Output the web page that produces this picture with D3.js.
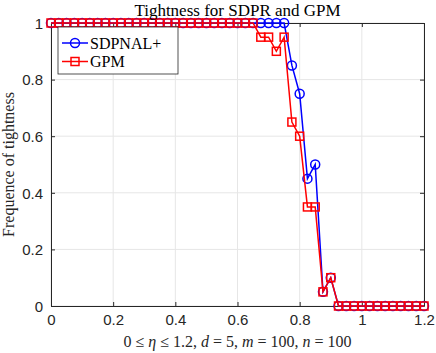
<!DOCTYPE html>
<html>
<head>
<meta charset="utf-8">
<script src="https://cdn.jsdelivr.net/npm/d3@7"></script>
<style>
  body { margin: 0; background: #fff; }
  svg { display: block; }
</style>
</head>
<body>
<svg id="chart"></svg>
<script>
// eta values, step 0.025 from 0 to 1.2
const etas = d3.range(0, 49).map(i => +(i * 0.025).toFixed(3));
// SDPNAL+ frequencies
const sdpnal = [
  1,1,1,1,1,1,1,1,1,1, 1,1,1,1,1,1,1,1,1,1,
  1,1,1,1,1,1,1,1,1,1, 1,0.85,0.75,0.45,0.5,0.05,0.1,0,0,0,
  0,0,0,0,0,0,0,0,0
];
// GPM frequencies
const gpm = [
  1,1,1,1,1,1,1,1,1,1, 1,1,1,1,1,1,1,1,1,1,
  1,1,1,1,1,1,1,0.95,0.95,0.9, 0.95,0.65,0.6,0.35,0.35,0.05,0.1,0,0,0,
  0,0,0,0,0,0,0,0,0
];
const xTicks = [0, 0.2, 0.4, 0.6, 0.8, 1, 1.2];
const yTicks = [0, 0.2, 0.4, 0.6, 0.8, 1];

const W = 436, H = 353;
const m = {left: 51, right: 12, top: 23, bottom: 47};
const svg = d3.select('#chart').attr('width', W).attr('height', H);

const x = d3.scaleLinear().domain([0, 1.2]).range([m.left, W - m.right]);
const y = d3.scaleLinear().domain([0, 1]).range([H - m.bottom, m.top]);

// grid
const grid = svg.append('g').attr('stroke', '#e6e6e6').attr('stroke-width', 1);
grid.selectAll('.gx').data(xTicks).join('line')
  .attr('x1', d => x(d)).attr('x2', d => x(d)).attr('y1', y(0)).attr('y2', y(1));
grid.selectAll('.gy').data(yTicks).join('line')
  .attr('x1', x(0)).attr('x2', x(1.2)).attr('y1', d => y(d)).attr('y2', d => y(d));

// axes (ticks inside)
const tickFont = 'Liberation Sans, Arial, sans-serif';
const xAxis = d3.axisBottom(x).tickValues(xTicks).tickSizeInner(-4).tickSizeOuter(0).tickPadding(8).tickFormat(d3.format('~g'));
const yAxis = d3.axisLeft(y).tickValues(yTicks).tickSizeInner(-4).tickSizeOuter(0).tickPadding(8).tickFormat(d3.format('~g'));
const gx = svg.append('g').attr('transform', `translate(0,${y(0)})`).call(xAxis);
const gy = svg.append('g').attr('transform', `translate(${x(0)},0)`).call(yAxis);
[gx, gy].forEach(g => {
  g.selectAll('path,line').attr('stroke', '#262626');
  g.selectAll('text').attr('fill', '#262626').style('font-family', tickFont).style('font-size', '15px');
});
gy.selectAll('text').attr('dy', '0.35em');
// top and right box edges
const gt = svg.append('g').attr('transform', `translate(0,${y(1)})`)
  .call(d3.axisTop(x).tickValues(xTicks).tickSizeInner(-4).tickSizeOuter(0).tickFormat(''));
const gr = svg.append('g').attr('transform', `translate(${x(1.2)},0)`)
  .call(d3.axisRight(y).tickValues(yTicks).tickSizeInner(-4).tickSizeOuter(0).tickFormat(''));
[gt, gr].forEach(g => g.selectAll('path,line').attr('stroke', '#262626'));

// series
const series = [
  {name: 'SDPNAL+', vals: sdpnal, color: '#0000ff', marker: 'circle'},
  {name: 'GPM', vals: gpm, color: '#ff0000', marker: 'square'}
];
const line = d3.line().x((d, i) => x(etas[i])).y(d => y(d));

function drawMarker(g, type, color) {
  if (type === 'circle') {
    g.append('circle').attr('r', 4.5).attr('fill', 'none').attr('stroke', color).attr('stroke-width', 1.5);
  } else {
    g.append('rect').attr('x', -4).attr('y', -4).attr('width', 8).attr('height', 8)
      .attr('fill', 'none').attr('stroke', color).attr('stroke-width', 1.5);
  }
}

series.forEach(s => {
  svg.append('path').datum(s.vals).attr('d', line)
    .attr('fill', 'none').attr('stroke', s.color).attr('stroke-width', 1.5);
  s.vals.forEach((v, i) => {
    const g = svg.append('g').attr('transform', `translate(${x(etas[i])},${y(v)})`);
    drawMarker(g, s.marker, s.color);
  });
});

// title
const serif = 'Liberation Serif, Times New Roman, serif';
svg.append('text').attr('x', (x(0) + x(1.2)) / 2).attr('y', 16)
  .attr('text-anchor', 'middle').style('font-family', serif).style('font-size', '17px')
  .attr('fill', '#000').text('Tightness for SDPR and GPM');

// y label
svg.append('text').attr('transform', `translate(14,${(y(0) + y(1)) / 2}) rotate(-90)`)
  .attr('text-anchor', 'middle').style('font-family', serif).style('font-size', '16px')
  .attr('fill', '#262626').text('Frequence of tightness');

// x label
const xl = svg.append('text').attr('x', (x(0) + x(1.2)) / 2).attr('y', 347)
  .attr('text-anchor', 'middle').style('font-family', serif).style('font-size', '16px').attr('fill', '#262626');
xl.append('tspan').text('0 ≤ ');
xl.append('tspan').style('font-style', 'italic').text('η');
xl.append('tspan').text(' ≤ 1.2, ');
xl.append('tspan').style('font-style', 'italic').text('d');
xl.append('tspan').text(' = 5, ');
xl.append('tspan').style('font-style', 'italic').text('m');
xl.append('tspan').text(' = 100, ');
xl.append('tspan').style('font-style', 'italic').text('n');
xl.append('tspan').text(' = 100');

// legend
const lg = svg.append('g').attr('transform', 'translate(58,27)');
lg.append('rect').attr('width', 120).attr('height', 47).attr('fill', '#fff').attr('stroke', '#262626').attr('stroke-width', 0.8);
series.forEach((s, i) => {
  const yy = 16 + i * 18.5;
  lg.append('line').attr('x1', 4).attr('x2', 30).attr('y1', yy).attr('y2', yy)
    .attr('stroke', s.color).attr('stroke-width', 1.5);
  const mg = lg.append('g').attr('transform', `translate(17,${yy})`);
  drawMarker(mg, s.marker, s.color);
  lg.append('text').attr('x', 32).attr('y', yy).attr('dy', '0.35em')
    .style('font-family', serif).style('font-size', '16px').attr('fill', '#000').text(s.name);
});
</script>
</body>
</html>
